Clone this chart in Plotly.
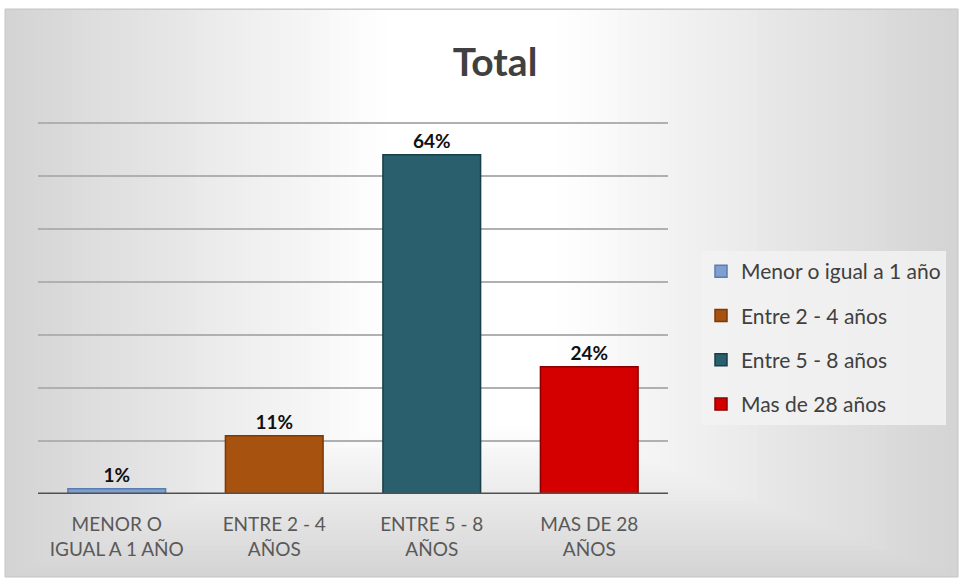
import plotly.graph_objects as go

categories = ["MENOR O<br>IGUAL A 1 AÑO", "ENTRE 2 - 4<br>AÑOS", "ENTRE 5 - 8<br>AÑOS", "MAS DE 28<br>AÑOS"]
series_names = ["Menor o igual a 1 año", "Entre 2 - 4 años", "Entre 5 - 8 años", "Mas de 28 años"]
values = [1, 11, 64, 24]
labels = ["1%", "11%", "64%", "24%"]
colors = ["#7f9fce", "#a8520f", "#2a5f6e", "#d40000"]
edge_colors = ["#5b7cb0", "#7a3a08", "#173f4a", "#8a0000"]

W, H = 960, 583
L, R, T, B = 38, 292, 122, 89
pw, ph = W - L - R, H - T - B

def px_x(p):
    return (p - L) / pw

def px_y(p):
    return (H - B - p) / ph

fig = go.Figure()
for i in range(4):
    fig.add_trace(go.Bar(
        x=[categories[i]], y=[values[i]], name=series_names[i],
        marker=dict(color=colors[i], line=dict(color=edge_colors[i], width=1.5)),
        text=[labels[i]], textposition="outside",
        textfont=dict(family="Lato", size=19, color="#111111", weight="bold"),
        cliponaxis=False, legendgroup=str(i),
    ))

shapes = []
shapes.append(dict(type="rect", xref="paper", yref="paper", layer="below",
                   x0=px_x(5), x1=px_x(958), y0=px_y(577), y1=px_y(9),
                   fillcolor="#d4d4d4", line=dict(color="#c4c4c4", width=1)))
n = 40
c0, c1 = 0xd4, 0xff
for k in range(1, n + 1):
    f = k / n
    v = int(round(c0 + (c1 - c0) * f))
    col = "#%02x%02x%02x" % (v, v, v)
    d = f * 380
    shapes.append(dict(type="rect", xref="paper", yref="paper", layer="below",
                       x0=px_x(6 + d), x1=px_x(957 - d * 1.05),
                       y0=px_y(576 - f * 150), y1=px_y(10),
                       fillcolor=col, line=dict(width=0)))

fig.update_layout(
    width=W, height=H,
    margin=dict(l=L, r=R, t=T, b=B),
    paper_bgcolor="white", plot_bgcolor="rgba(0,0,0,0)",
    barmode="overlay", bargap=0.38,
    title=dict(text="<b>Total</b>", x=495 / W, xanchor="center", y=1 - 62 / H, yanchor="middle",
               font=dict(family="Lato", size=39, color="#404040")),
    showlegend=True,
    legend=dict(x=px_x(701), y=px_y(251), xanchor="left", yanchor="top",
                bgcolor="rgba(242,242,242,0.85)", borderwidth=0,
                font=dict(family="Lato", size=21, color="#404040"),
                traceorder="grouped", tracegroupgap=14, itemwidth=30,
                entrywidth=250),
    xaxis=dict(showgrid=False, showline=False, ticks="",
               tickfont=dict(family="Lato", size=19, color="#595959"),
               ticklabelstandoff=17),
    yaxis=dict(range=[0, 70.2], dtick=10, showgrid=True, gridcolor="#b0b0b0", gridwidth=1.5,
               showticklabels=False, zeroline=False, showline=False, ticks=""),
    shapes=shapes,
)
fig.add_shape(type="line", xref="paper", yref="y", x0=0, x1=1, y0=0, y1=0,
              line=dict(color="#505050", width=3), layer="above")

fig.write_html("out.html")
